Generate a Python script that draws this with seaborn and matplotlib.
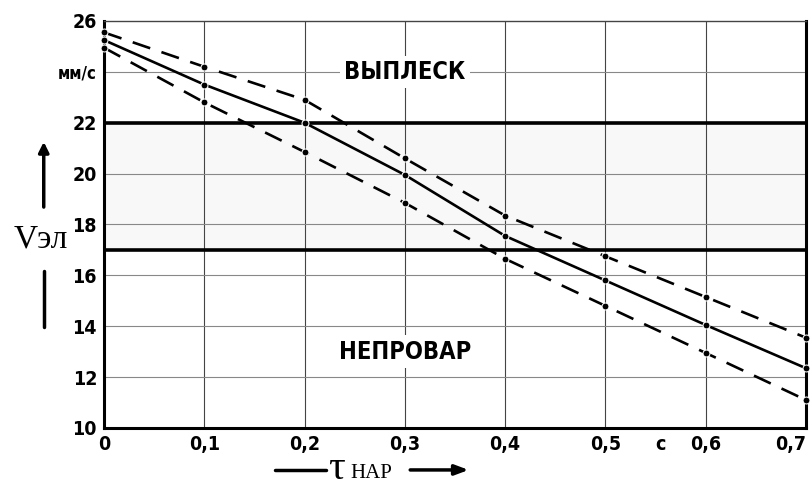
import numpy as np
import pandas as pd
import matplotlib
matplotlib.use('Agg')
import matplotlib.pyplot as plt
import seaborn as sns

# данные
tau = [0.0, 0.1, 0.2, 0.3, 0.4, 0.5, 0.6, 0.7]
v_upper = [25.55, 24.2, 22.9, 20.6, 18.35, 16.75, 15.15, 13.55]
v_mid = [25.25, 23.5, 22.0, 19.95, 17.55, 15.8, 14.05, 12.35]
v_lower = [24.95, 22.8, 20.85, 18.85, 16.65, 14.8, 12.95, 11.1]

band_low, band_high = 17, 22

x_ticks = [0.0, 0.1, 0.2, 0.3, 0.4, 0.5, 0.555, 0.6, 0.7]
x_labels = ['0', '0,1', '0,2', '0,3', '0,4', '0,5', 'с', '0,6', '0,7']
x_grid = [0.1, 0.2, 0.3, 0.4, 0.5, 0.6]
y_ticks = [10, 12, 14, 16, 18, 20, 22, 24, 26]
y_labels = ['10', '12', '14', '16', '18', '20', '22', 'мм/с', '26']

df = pd.DataFrame({'tau': tau * 3,
                   'v': v_upper + v_mid + v_lower,
                   'curve': ['upper'] * 8 + ['mid'] * 8 + ['lower'] * 8})

sns.set_style('white')
plt.rcParams['font.family'] = ['DejaVu Sans']
plt.rcParams['text.color'] = 'black'
plt.rcParams['xtick.color'] = 'black'
plt.rcParams['ytick.color'] = 'black'

fig = plt.figure(figsize=(8.1, 4.88), dpi=100)
ax = fig.add_axes([0.1284, 0.123, 0.8666, 0.834])

# сетка
for x in x_grid:
    ax.axvline(x, color='#444444', lw=0.8, zorder=1)
for y in y_ticks[1:-1]:
    ax.axhline(y, color='#888888', lw=0.8, zorder=1)

# зона допустимых режимов
ax.axhspan(band_low, band_high, color='#f8f8f8', zorder=0)
ax.axhline(band_low, color='black', lw=2.6, zorder=2)
ax.axhline(band_high, color='black', lw=2.6, zorder=2)

sns.lineplot(data=df, x='tau', y='v', hue='curve', style='curve',
             palette={'upper': 'black', 'mid': 'black', 'lower': 'black'},
             dashes={'upper': (7, 4.5), 'mid': '', 'lower': (7, 4.5)},
             markers={'upper': 'o', 'mid': 'o', 'lower': 'o'},
             markersize=5, linewidth=1.9, legend=False, ax=ax, zorder=3,
             clip_on=False)

ax.set_xlim(0, 0.7)
ax.set_ylim(10, 26)
ax.set_xticks(x_ticks)
ax.set_xticklabels(x_labels)
ax.set_yticks(y_ticks)
ax.set_yticklabels(y_labels)
ax.tick_params(length=0, pad=5)
for lab in ax.get_xticklabels() + ax.get_yticklabels():
    lab.set_fontweight('bold')
    lab.set_fontstretch('condensed')
    lab.set_fontsize(14)
    lab.set_color('black')
ax.get_xticklabels()[-1].set_horizontalalignment('right')
ax.get_xticklabels()[-1].set_x(0.703)
ax.get_yticklabels()[7].set_fontsize(12)
ax.set_xlabel('')
ax.set_ylabel('')

for side in ['left', 'bottom', 'right']:
    ax.spines[side].set_linewidth(2.2)
    ax.spines[side].set_color('black')
ax.spines['top'].set_linewidth(1.0)
ax.spines['top'].set_color('#444444')

bbox = dict(facecolor='white', edgecolor='none', pad=3)
ax.text(0.3, 24, 'ВЫПЛЕСК', ha='center', va='center', fontsize=17,
        fontweight='bold', fontstretch='condensed', bbox=bbox, zorder=4)
ax.text(0.3, 13, 'НЕПРОВАР', ha='center', va='center', fontsize=17,
        fontweight='bold', fontstretch='condensed', bbox=bbox, zorder=4)

# подпись оси Y со стрелкой
fig.text(0.05, 0.51, 'Vэл', ha='center', va='center', fontsize=24,
         family=['Liberation Serif', 'DejaVu Serif'])
fig.add_artist(matplotlib.patches.FancyArrowPatch(
    (0.054, 0.57), (0.054, 0.715), transform=fig.transFigure,
    arrowstyle='-|>,head_length=6,head_width=3', lw=2.5, color='black'))
fig.add_artist(matplotlib.lines.Line2D(
    [0.054, 0.054], [0.33, 0.445], transform=fig.transFigure, lw=2.5, color='black'))

# подпись оси X со стрелкой
fig.text(0.405, 0.04, 'τ', ha='left', va='center', fontsize=30,
         family=['Liberation Serif', 'DejaVu Serif'])
fig.text(0.432, 0.03, 'НАР', ha='left', va='center', fontsize=15,
         family=['Liberation Serif', 'DejaVu Serif'])
fig.add_artist(matplotlib.lines.Line2D(
    [0.34, 0.402], [0.037, 0.037], transform=fig.transFigure, lw=2.5, color='black'))
fig.add_artist(matplotlib.patches.FancyArrowPatch(
    (0.503, 0.037), (0.582, 0.037), transform=fig.transFigure,
    arrowstyle='-|>,head_length=8,head_width=3', lw=2.5, color='black'))

fig.savefig('out.png', dpi=100)
